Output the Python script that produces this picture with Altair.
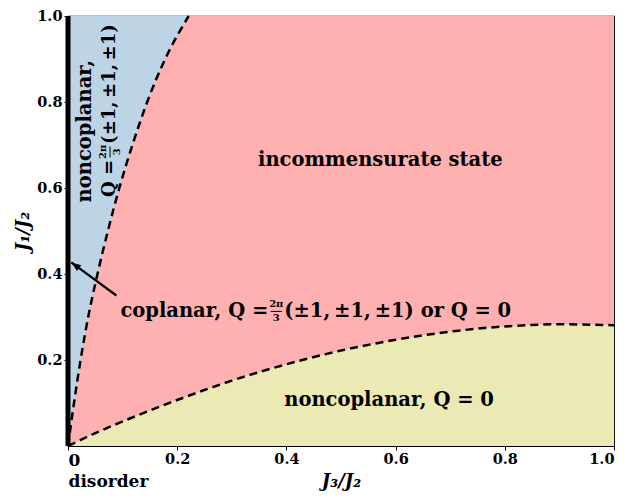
import altair as alt
import pandas as pd

# Upper phase boundary (noncoplanar 2pi/3 | incommensurate): x as function of y
upper_y = [0.0, 0.1, 0.2, 0.3, 0.4, 0.5, 0.6, 0.7, 0.8, 0.9, 1.0]
upper_x = [0.0, 0.011, 0.023, 0.037, 0.054, 0.073, 0.094, 0.118, 0.145, 0.178, 0.221]

# Lower phase boundary (incommensurate | noncoplanar Q=0)
lower_x = [0.0, 0.05, 0.1, 0.2, 0.3, 0.4, 0.5, 0.6, 0.7, 0.8, 0.9, 1.0]
lower_y = [0.0, 0.03, 0.057, 0.107, 0.152, 0.19, 0.222, 0.247, 0.266, 0.278, 0.283, 0.281]

x_ticks = [0.0, 0.2, 0.4, 0.6, 0.8, 1.0]
y_ticks = [0.2, 0.4, 0.6, 0.8, 1.0]

# arrow: tail -> head
arrow_x = [0.0886, 0.006]
arrow_y = [0.350, 0.427]

BLUE = "#bdd4e7"
PINK = "#ffb1b1"
YELLOW = "#ebe9b4"
FONT = "DejaVu Serif"
TS = "\u2009"  # thin space

upper = pd.DataFrame({"x": upper_x, "y": upper_y, "x0": [0.0] * len(upper_x)})
lower = pd.DataFrame({"x": lower_x, "y": lower_y, "y0": [0.0] * len(lower_x)})
arrow = pd.DataFrame({"x": arrow_x, "y": arrow_y, "o": [0, 1]})

xs = alt.Scale(domain=[0, 1], nice=False, zero=False)
ys = alt.Scale(domain=[0, 1], nice=False, zero=False)

xaxis = alt.Axis(
    values=x_ticks,
    title="J₃/J₂",
    labelExpr="datum.value == 0 ? ['0', 'disorder'] : format(datum.value, '.1f')",
    labelFontSize={"condition": {"test": "datum.value == 0", "value": 17}, "value": 14.5},
    labelLineHeight=21,
    titleY=35,
    titleBaseline="middle",
    grid=False,
)
yaxis = alt.Axis(
    values=y_ticks,
    format=".1f",
    title="J₁/J₂",
    grid=False,
    labelFontSize=14.5,
)

bg = alt.Chart(pd.DataFrame({"x": [0.0], "x2": [1.0], "y": [0.0], "y2": [1.0]})).mark_rect(
    color=PINK
).encode(
    x=alt.X("x:Q", scale=xs, axis=xaxis),
    x2="x2:Q",
    y=alt.Y("y:Q", scale=ys, axis=yaxis),
    y2="y2:Q",
)

blue = alt.Chart(upper).mark_area(
    orient="horizontal", color=BLUE, opacity=1, interpolate="monotone"
).encode(
    y=alt.Y("y:Q", scale=ys),
    x=alt.X("x0:Q", scale=xs),
    x2="x:Q",
)

yellow = alt.Chart(lower).mark_area(color=YELLOW, opacity=1, interpolate="monotone").encode(
    x=alt.X("x:Q", scale=xs),
    y=alt.Y("y0:Q", scale=ys),
    y2="y:Q",
)

dash = dict(color="black", strokeWidth=2.5, strokeDash=[8, 5], interpolate="monotone")
upper_line = alt.Chart(upper).mark_line(**dash).encode(
    x=alt.X("x:Q", scale=xs), y=alt.Y("y:Q", scale=ys), order="y:Q"
)
lower_line = alt.Chart(lower).mark_line(**dash).encode(
    x=alt.X("x:Q", scale=xs), y=alt.Y("y:Q", scale=ys), order="x:Q"
)

left_edge = alt.Chart(pd.DataFrame({"x": [0.0], "y": [0.0], "y2": [1.0]})).mark_rule(
    color="black", strokeWidth=5, clip=False
).encode(x=alt.X("x:Q", scale=xs), y=alt.Y("y:Q", scale=ys), y2="y2:Q")

arrow_line = alt.Chart(arrow).mark_line(color="black", strokeWidth=2.2).encode(
    x=alt.X("x:Q", scale=xs), y=alt.Y("y:Q", scale=ys), order="o:Q"
)
arrow_head = alt.Chart(arrow[arrow.o == 1]).mark_point(
    shape="M0,0L0.55,1.5L-0.55,1.5Z", filled=True, color="black", opacity=1, size=170, angle=306.5
).encode(x=alt.X("x:Q", scale=xs), y=alt.Y("y:Q", scale=ys))


def txt(x, y, text, size=19.5, align="center", angle=0, dx=0, dy=0, style="normal"):
    d = pd.DataFrame({"x": [x], "y": [y], "t": [text]})
    return alt.Chart(d).mark_text(
        font=FONT, fontWeight="bold", fontSize=size, align=align, baseline="middle",
        angle=angle, dx=dx, dy=dy, color="black", fontStyle=style,
    ).encode(x=alt.X("x:Q", scale=xs), y=alt.Y("y:Q", scale=ys), text="t:N")


def bar(x, y, orient):
    d = pd.DataFrame({"x": [x], "y": [y]})
    return alt.Chart(d).mark_tick(
        orient=orient, size=11, thickness=1, color="black", opacity=1
    ).encode(x=alt.X("x:Q", scale=xs), y=alt.Y("y:Q", scale=ys))


FX, FY = 0.3815, 0.313     # fraction anchor of the coplanar label
VX, VY = 0.077, 0.684      # fraction anchor of the vertical label
PM = f"(±1,{TS}±1,{TS}±1)"

texts = [
    txt(0.572, 0.666, "incommensurate state"),
    txt(0.588, 0.108, "noncoplanar, Q = 0"),
    # coplanar label with stacked fraction
    txt(FX, FY, "coplanar, Q =", align="right", dx=-8),
    txt(FX, FY, "2π", size=10, dy=-7),
    bar(FX, FY, "horizontal"),
    txt(FX, FY, "3", size=10, dy=7),
    txt(FX, FY, PM + " or Q = 0", align="left", dx=8),
    # vertical labels in blue region
    txt(0.031, 0.732, "noncoplanar,", angle=270),
    txt(VX, VY, "Q =", size=18, angle=270, align="right", dx=-8),
    txt(VX, VY, "2π", size=10, angle=270, dy=-7),
    bar(VX, VY, "vertical"),
    txt(VX, VY, "3", size=10, angle=270, dy=7),
    txt(VX, VY, PM, size=18, angle=270, align="left", dx=8),
]

chart = alt.layer(
    bg, blue, yellow, upper_line, lower_line, arrow_line, arrow_head, *texts, left_edge
).properties(
    width=546, height=430,
    autosize=alt.AutoSizeParams(type="none"),
    padding={"left": 60, "top": 8, "right": 12, "bottom": 46},
).configure_view(
    stroke="black", strokeWidth=1.2
).configure_axis(
    labelFont=FONT, labelFontWeight="bold", labelColor="black",
    titleFont=FONT, titleFontWeight="bold", titleFontStyle="italic", titleColor="black",
    titleFontSize=18, domainColor="black", tickColor="black", tickSize=4, labelPadding=2,
    domainWidth=1.2,
)

chart.save("out.html", embed_options={"renderer": "svg", "actions": False})
